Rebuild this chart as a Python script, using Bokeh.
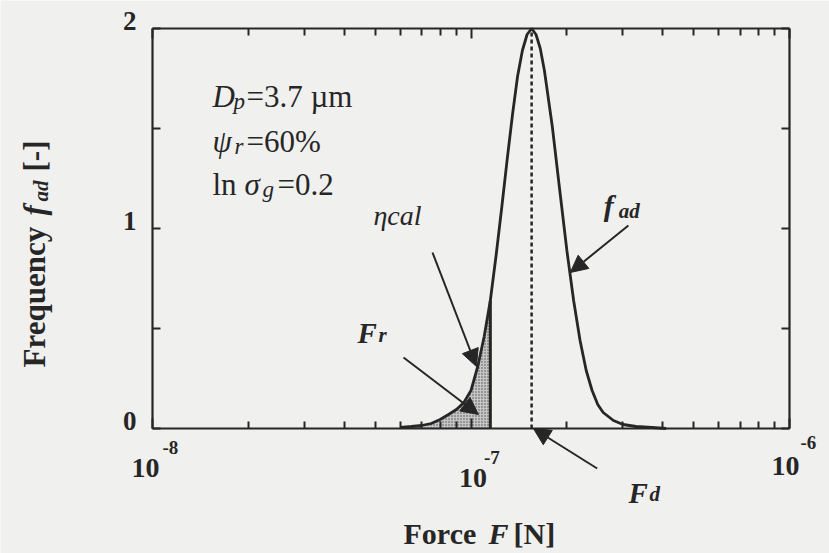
import math
from bokeh.plotting import figure
from bokeh.models import (FixedTicker, LogAxis, LinearAxis, Label, Arrow, NormalHead,
                          CustomJSTickFormatter, Range1d)
from bokeh.embed import file_html
from bokeh.resources import INLINE

# Adhesion force distribution f_ad (lognormal in F)
force = [6.0e-8, 6.5e-8, 7.0e-8, 7.5e-8, 8.0e-8, 8.5e-8, 9.0e-8, 9.5e-8,
         1.0e-7, 1.05e-7, 1.1e-7, 1.15e-7, 1.2e-7, 1.25e-7, 1.3e-7, 1.35e-7,
         1.4e-7, 1.45e-7, 1.5e-7, 1.55e-7, 1.6e-7, 1.65e-7, 1.7e-7, 1.8e-7,
         1.9e-7, 2.0e-7, 2.1e-7, 2.2e-7, 2.3e-7, 2.4e-7, 2.5e-7, 2.6e-7,
         2.8e-7, 3.0e-7, 3.3e-7, 3.7e-7, 4.1e-7]
freq = [0.005, 0.01, 0.015, 0.025, 0.045, 0.07, 0.095, 0.13,
        0.19, 0.31, 0.46, 0.64, 0.87, 1.11, 1.35, 1.57,
        1.76, 1.89, 1.97, 2.00, 1.97, 1.90, 1.79, 1.51,
        1.19, 0.89, 0.64, 0.44, 0.29, 0.19, 0.12, 0.08,
        0.04, 0.02, 0.01, 0.005, 0.0]

force_d = 1.55e-7   # Fd, median adhesion force
force_r = 1.15e-7   # Fr, removal force
freq_r = 0.64       # f_ad at Fr

x_lim = (1e-8, 1e-6)
y_lim = (0, 2)
x_major = [1e-8, 1e-7, 1e-6]
x_minor = [2e-8, 3e-8, 4e-8, 5e-8, 6e-8, 7e-8, 8e-8, 9e-8,
           2e-7, 3e-7, 4e-7, 5e-7, 6e-7, 7e-7, 8e-7, 9e-7]
x_exponents = ["-8", "-7", "-6"]
y_major = [0, 1, 2]
y_minor = [0.5, 1.5]
y_tick_labels = ["0", "1", "2"]

INK = "#262626"
BG = "#f0f0ee"
FONT = "Liberation Serif"

W, H = 829, 553
# plot box inside the canvas (pixels): left, right, top, bottom
BOX_L, BOX_R, BOX_T, BOX_B = 152, 789, 28, 428
px_per_dec = (BOX_R - BOX_L) / math.log10(x_lim[1] / x_lim[0])
px_per_unit = (BOX_B - BOX_T) / (y_lim[1] - y_lim[0])
x_range = Range1d(x_lim[0] / 10 ** (BOX_L / px_per_dec),
                  x_lim[1] * 10 ** ((W - BOX_R) / px_per_dec))
y_range = Range1d(y_lim[0] - (H - BOX_B) / px_per_unit,
                  y_lim[1] + BOX_T / px_per_unit)

p = figure(width=W, height=H, x_axis_type="log", x_range=x_range, y_range=y_range,
           output_backend="svg", toolbar_location=None, min_border=0)
p.background_fill_color = BG
p.border_fill_color = BG
p.outline_line_color = None
p.xgrid.visible = False
p.ygrid.visible = False

blank = CustomJSTickFormatter(code="return ''")

p.add_layout(LogAxis(), "above")
p.add_layout(LinearAxis(), "right")
bottom_ax, top_ax = p.below[0], p.above[0]
left_ax, right_ax = p.left[0], p.right[0]
bottom_ax.fixed_location = y_lim[0]
top_ax.fixed_location = y_lim[1]
left_ax.fixed_location = x_lim[0]
right_ax.fixed_location = x_lim[1]
for ax in (bottom_ax, top_ax):
    ax.bounds = x_lim
    ax.ticker = FixedTicker(ticks=x_major, minor_ticks=x_minor)
    ax.major_tick_in, ax.major_tick_out = 10, 0
    ax.minor_tick_in, ax.minor_tick_out = 7, 0
for ax in (left_ax, right_ax):
    ax.bounds = y_lim
    ax.ticker = FixedTicker(ticks=y_major, minor_ticks=y_minor)
    ax.major_tick_in, ax.major_tick_out = 8, 0
    ax.minor_tick_in, ax.minor_tick_out = 8, 0
for ax in (bottom_ax, top_ax, left_ax, right_ax):
    ax.formatter = blank
    ax.major_label_text_font_size = "0px"
    ax.major_label_standoff = 0
    ax.axis_line_color = INK
    ax.axis_line_width = 2.2
    ax.major_tick_line_color = INK
    ax.minor_tick_line_color = INK
    ax.major_tick_line_width = 2
    ax.minor_tick_line_width = 2

# shaded part of the distribution below Fr
shade_x = [f for f in force if f <= force_r]
shade_y = freq[:len(shade_x)]
p.varea(x=shade_x, y1=[0] * len(shade_x), y2=shade_y, fill_color="#c6c6c6",
        hatch_pattern="dot", hatch_color="#4a4a4a", hatch_scale=3, hatch_weight=1)
p.segment(x0=[force_r], y0=[0], x1=[force_r], y1=[freq_r], line_color=INK, line_width=3)

# median force marker
p.segment(x0=[force_d], y0=[0], x1=[force_d], y1=[max(freq)], line_color=INK,
          line_width=2.5, line_dash="4 3")

p.line(force, freq, line_color=INK, line_width=2.8)

LIFT = 0.34   # raise of the alphabetic baseline, in font sizes


def text(x, y, parts, angle=0.0, weight="bold", align="left"):
    """parts: (string, style, size_px, offset along the text, offset downwards)"""
    for s, style, size, dx, dy in parts:
        dy = dy - LIFT * size
        if angle:
            xo, yo = dy, dx
        else:
            xo, yo = dx, -dy
        fs = style
        if weight == "bold":
            fs = "bold" if style == "normal" else "bold italic"
        p.add_layout(Label(x=x, y=y, text=s, x_offset=xo, y_offset=yo, angle=angle,
                           text_font=FONT, text_font_size=f"{size}px",
                           text_font_style=fs, text_color=INK,
                           text_align=align, text_baseline="alphabetic"))


# tick labels
for v, lab in zip(y_major, y_tick_labels):
    text(x_lim[0], v, [(lab, "normal", 27, -16, 2)], align="right")
for v, e, cx, base, ex, ebase in zip(x_major, x_exponents,
                                     [-7, 2, -4], [49, 59, 47],
                                     [10, 13, 11], [25, 35, 20]):
    text(v, 0, [("10", "normal", 28, cx, base)], align="center")
    text(v, 0, [(e, "normal", 19, ex, ebase)])

# axis titles
text(6.14e-8, -0.575, [("Force", "normal", 30, 0, 0),
                       ("F", "italic", 30, 85, 0),
                       ("[N]", "normal", 30, 110, 0)])
text(4.6e-9, 0.305, [("Frequency", "normal", 31, 0, 0),
                     ("f", "italic", 31, 152, 0),
                     ("ad", "italic", 21, 166, 3),
                     ("[-]", "normal", 31, 196, 0)], angle=math.pi / 2)

# conditions
text(1.543e-8, 1.605, [("D", "italic", 31, 0, 0), ("p", "italic", 23, 21, 2),
                       ("=3.7 \u00b5m", "normal", 31, 34, 0)], weight="normal")
text(1.543e-8, 1.38, [("\u03c8", "italic", 31, 0, 0), ("r", "italic", 23, 22, 2),
                      ("=60%", "normal", 31, 34, 0)], weight="normal")
text(1.543e-8, 1.165, [("ln", "normal", 31, 0, 0), ("\u03c3", "italic", 31, 32, 0),
                       ("g", "italic", 23, 50, 2), ("=0.2", "normal", 31, 65, 0)],
     weight="normal")

# curve annotations
text(4.94e-8, 1.015, [("\u03b7cal", "italic", 28, 0, 0)], weight="normal")
text(2.61e-7, 1.065, [("f", "italic", 30, 0, 0), ("ad", "italic", 21, 15, 3)])
text(4.40e-8, 0.43, [("F", "italic", 29, 0, 0), ("r", "italic", 21, 21, 0)])
text(3.12e-7, -0.37, [("F", "italic", 29, 0, 0), ("d", "italic", 21, 21, -1)])

for xs, ys, xe, ye in [(3.12e-7, 1.015, 2.05e-7, 0.78),
                       (7.57e-8, 0.88, 1.04e-7, 0.31),
                       (6.14e-8, 0.355, 1.055e-7, 0.07),
                       (2.49e-7, -0.2, 1.57e-7, 0.0)]:
    p.add_layout(Arrow(x_start=xs, y_start=ys, x_end=xe, y_end=ye,
                       line_color=INK, line_width=2,
                       end=NormalHead(size=17, fill_color=INK, line_color=INK)))

open("out.html", "w").write(file_html(p, INLINE))
